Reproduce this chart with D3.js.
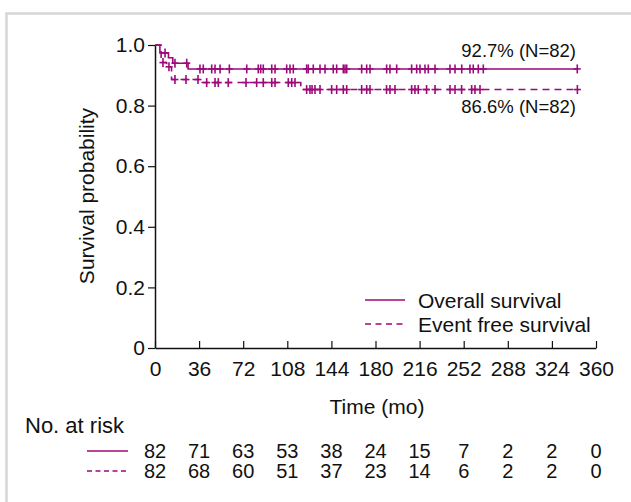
<!DOCTYPE html>
<html>
<head>
<meta charset="utf-8">
<script src="https://cdn.jsdelivr.net/npm/d3@7"></script>
<style>
  body { margin: 0; background: #fff; }
  svg text { font-family: "Liberation Sans", Arial, sans-serif; fill: #111; }
</style>
</head>
<body>
<div class="canvas"></div>
<script>
// x ticks and number at risk
const riskTimes = [0, 36, 72, 108, 144, 180, 216, 252, 288, 324, 360];
const osRisk = [82, 71, 63, 53, 38, 24, 15, 7, 2, 2, 0];
const efsRisk = [82, 68, 60, 51, 37, 23, 14, 6, 2, 2, 0];
const yTicks = [0, 0.2, 0.4, 0.6, 0.8, 1.0];

// Kaplan-Meier steps (months, survival)
const osStepTimes = [0, 4, 11, 14.5, 27];
const osStepSurv = [1, 0.974, 0.958, 0.94, 0.921];
const osEnd = 344.7;
const osCensor = [8.2, 16.3, 25.9, 36.7, 39.4, 46.3, 49, 53.1, 60.7, 74.9, 84.3, 86.3, 88.4,
  95.3, 98, 107.5, 110.2, 112.9, 123.8, 125.1, 129.2, 134.7, 138.8, 145.5, 148.3, 153.7,
  155.1, 156.5, 168.7, 172.8, 175.5, 189.1, 191.8, 197.3, 209.5, 213.6, 216.3, 220.4,
  223.1, 228.6, 240.8, 244.9, 250.4, 257.1, 259.8, 263.9, 268, 344.7];

const efsStepTimes = [0, 5, 9.5, 13.5, 37, 119];
const efsStepSurv = [1, 0.942, 0.928, 0.886, 0.876, 0.853];
const efsEnd = 344.8;
const efsCensor = [6.5, 11.4, 16.3, 25.3, 35.1, 42.2, 49, 51.7, 59.8, 74.3, 83, 88.4, 95.3,
  98, 108.8, 111.6, 114.3, 123.8, 126.5, 128.2, 130.6, 134.7, 144.2, 148.3, 153.7, 156.5,
  168.7, 172.8, 175.5, 189, 191.8, 195.9, 209.5, 212.2, 214.9, 221.7, 228.6, 240.8, 244.9,
  250.3, 258.5, 261.2, 265.3, 344.8];

const purple = "#9c0a7a";
const fs = 21;

const svg = d3.select(".canvas").append("svg").attr("width", 631).attr("height", 502);

// grey frame
svg.append("path")
  .attr("d", "M6.5,502 V13.5 H631")
  .attr("fill", "none")
  .attr("stroke", "#d6d6d6")
  .attr("stroke-width", 2.5);

const x = d3.scaleLinear().domain([0, 360]).range([155, 596]);
const y = d3.scaleLinear().domain([0, 1]).range([348, 45]);

// axes
const xAxis = svg.append("g")
  .attr("transform", "translate(0,348)")
  .call(d3.axisBottom(x).tickValues(riskTimes).tickSizeInner(-7).tickSizeOuter(0).tickPadding(13));
const yAxis = svg.append("g")
  .attr("transform", "translate(155,0)")
  .call(d3.axisLeft(y).tickValues(yTicks).tickSizeInner(7).tickSizeOuter(0).tickPadding(3)
    .tickFormat((d) => (d === 0 ? "0" : d3.format(".1f")(d))));

[xAxis, yAxis].forEach((g) => {
  g.select(".domain").attr("stroke", "#111").attr("stroke-width", 1.5);
  g.selectAll(".tick line").attr("stroke", "#111").attr("stroke-width", 1.2);
  g.selectAll(".tick text").attr("font-size", fs).attr("fill", "#111")
    .attr("font-family", "Liberation Sans, Arial, sans-serif");
});

svg.append("text")
  .attr("x", 377).attr("y", 414)
  .attr("text-anchor", "middle").attr("font-size", fs)
  .text("Time (mo)");

svg.append("text")
  .attr("transform", "translate(94,196) rotate(-90)")
  .attr("text-anchor", "middle").attr("font-size", fs)
  .text("Survival probability");

// curves
const stepLine = d3.line().x((d) => x(d[0])).y((d) => y(d[1])).curve(d3.curveStepAfter);

const survAt = (times, surv, t) => {
  let s = surv[0];
  times.forEach((tt, i) => { if (tt <= t) s = surv[i]; });
  return s;
};

const drawCurve = (times, surv, end, censor, dash) => {
  const pts = times.map((t, i) => [t, surv[i]]);
  pts.push([end, surv[surv.length - 1]]);
  svg.append("path")
    .attr("d", stepLine(pts))
    .attr("fill", "none")
    .attr("stroke", purple)
    .attr("stroke-width", 1.6)
    .attr("stroke-dasharray", dash);

  const marks = svg.append("g");
  censor.forEach((t) => {
    const cx = x(t), cy = y(survAt(times, surv, t));
    marks.append("line")
      .attr("x1", cx).attr("x2", cx).attr("y1", cy - 4.5).attr("y2", cy + 4.5)
      .attr("stroke", purple).attr("stroke-width", 1.6);
    marks.append("line")
      .attr("x1", cx - 3.5).attr("x2", cx + 3.5).attr("y1", cy).attr("y2", cy)
      .attr("stroke", purple).attr("stroke-width", 1.6);
  });
};

drawCurve(osStepTimes, osStepSurv, osEnd, osCensor, null);
drawCurve(efsStepTimes, efsStepSurv, efsEnd, efsCensor, "7,5");

svg.append("text")
  .attr("x", 576).attr("y", 57)
  .attr("text-anchor", "end").attr("font-size", 18.5)
  .text("92.7% (N=82)");
svg.append("text")
  .attr("x", 576).attr("y", 113)
  .attr("text-anchor", "end").attr("font-size", 18.5)
  .text("86.6% (N=82)");

// legend
const legendItems = [
  { label: "Overall survival", dash: null, yy: 300 },
  { label: "Event free survival", dash: "6,4.5", yy: 324 }
];
legendItems.forEach((d) => {
  svg.append("line")
    .attr("x1", 365).attr("x2", 405).attr("y1", d.yy).attr("y2", d.yy)
    .attr("stroke", purple).attr("stroke-width", 1.6)
    .attr("stroke-dasharray", d.dash);
  svg.append("text")
    .attr("x", 418).attr("y", d.yy + 7.5)
    .attr("font-size", fs)
    .text(d.label);
});

// number at risk table
svg.append("text")
  .attr("x", 25).attr("y", 433)
  .attr("font-size", 22)
  .text("No. at risk");

[{ vals: osRisk, dash: null, yy: 451 }, { vals: efsRisk, dash: "5,3.5", yy: 471 }].forEach((row) => {
  svg.append("line")
    .attr("x1", 87).attr("x2", 128).attr("y1", row.yy).attr("y2", row.yy)
    .attr("stroke", purple).attr("stroke-width", 1.6)
    .attr("stroke-dasharray", row.dash);
  svg.append("g").selectAll("text")
    .data(row.vals)
    .join("text")
    .attr("x", (d, i) => x(riskTimes[i]))
    .attr("y", row.yy + 7)
    .attr("text-anchor", "middle")
    .attr("font-size", 20)
    .text((d) => d);
});
</script>
</body>
</html>
